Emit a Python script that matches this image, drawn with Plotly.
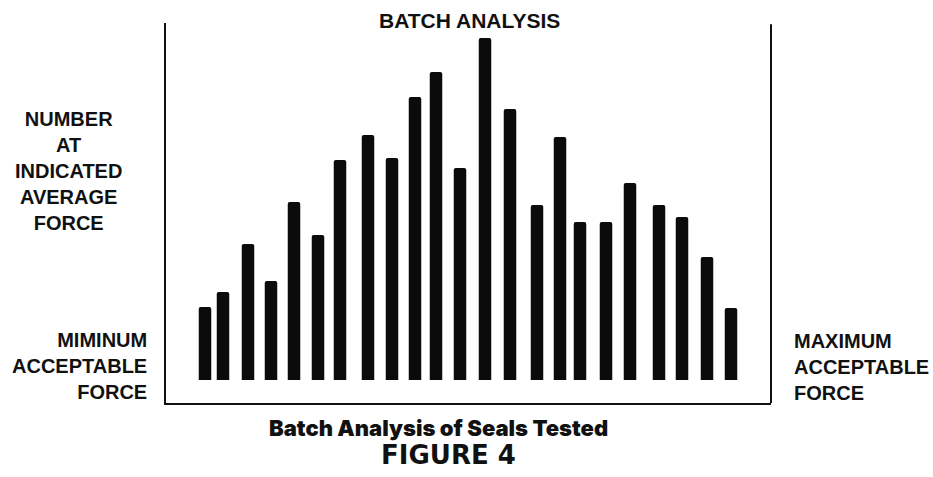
import plotly.graph_objects as go

# Average force position of each batch (arbitrary force units) and count at that force
force = [3.9, 5.7, 8.2, 10.5, 12.8, 15.2, 17.4, 20.2, 22.6, 24.9, 27.0, 29.4,
         31.9, 34.4, 37.1, 39.4, 41.4, 44.0, 46.4, 49.3, 51.6, 54.1, 56.5]
count = [7.3, 8.8, 13.6, 9.9, 17.8, 14.5, 22.0, 24.5, 22.2, 28.3, 30.8, 21.2,
         34.2, 27.1, 17.5, 24.3, 15.8, 15.8, 19.7, 17.5, 16.3, 12.3, 7.2]

title_text = "BATCH ANALYSIS"
left_label = "NUMBER<br>AT<br>INDICATED<br>AVERAGE<br>FORCE"
min_label = "MIMINUM<br>ACCEPTABLE<br>FORCE"
max_label = "MAXIMUM<br>ACCEPTABLE<br>FORCE"
caption1 = "Batch Analysis of Seals Tested"
caption2 = "FIGURE 4"

fig = go.Figure(go.Bar(x=force, y=count, width=1.25,
                       marker=dict(color="#0b0b0b", line=dict(width=0))))

W, H = 933, 477
L, R, T, B = 166, 162, 23, 74
pw, ph = W - L - R, H - T - B

def px(x):
    return (x - L) / pw

def py(y):
    return (H - B - y) / ph

lab_font = dict(family="Liberation Sans, Arial, sans-serif", size=20, color="#111")
cap_font = dict(family="Inter, Lato, sans-serif", size=22, color="#111", weight=900)
fig_font = dict(family="DejaVu Sans, sans-serif", size=26, color="#111")

fig.update_layout(
    width=W, height=H, margin=dict(l=L, r=R, t=T, b=B),
    paper_bgcolor="white", plot_bgcolor="white", showlegend=False,
    barcornerradius=2,
    xaxis=dict(range=[0, 60.5], showline=True, linecolor="#111", linewidth=2,
               showticklabels=False, ticks="", showgrid=False, zeroline=False),
    yaxis=dict(range=[-2.3, 35.7], showline=True, linecolor="#111", linewidth=2,
               showticklabels=False, ticks="", showgrid=False, zeroline=False),
    shapes=[dict(type="line", xref="paper", yref="paper", x0=1, x1=1, y0=0, y1=0.997,
                 line=dict(color="#111", width=2))],
    annotations=[
        dict(text="<b>" + title_text + "</b>", xref="paper", yref="paper",
             x=px(469), y=py(20), showarrow=False, xanchor="center", yanchor="middle",
             font=dict(family="Liberation Sans, Arial, sans-serif", size=21, color="#111")),
        dict(text="<b>" + left_label + "</b>", xref="paper", yref="paper",
             x=px(68), y=py(171), showarrow=False, xanchor="center", yanchor="middle",
             align="center", font=lab_font),
        dict(text="<b>" + min_label + "</b>", xref="paper", yref="paper",
             x=px(149), y=py(366), showarrow=False, xanchor="right", yanchor="middle",
             align="right", font=lab_font),
        dict(text="<b>" + max_label + "</b>", xref="paper", yref="paper",
             x=px(792), y=py(367), showarrow=False, xanchor="left", yanchor="middle",
             align="left", font=lab_font),
        dict(text=caption1, xref="paper", yref="paper",
             x=px(438), y=py(428), showarrow=False, xanchor="center", yanchor="middle",
             font=cap_font),
        dict(text="<b>" + caption2 + "</b>", xref="paper", yref="paper",
             x=px(448), y=py(455), showarrow=False, xanchor="center", yanchor="middle",
             font=fig_font),
    ],
)

fig.write_html("out.html", config={"displayModeBar": False},
               post_script="document.body.style.margin='0';")
